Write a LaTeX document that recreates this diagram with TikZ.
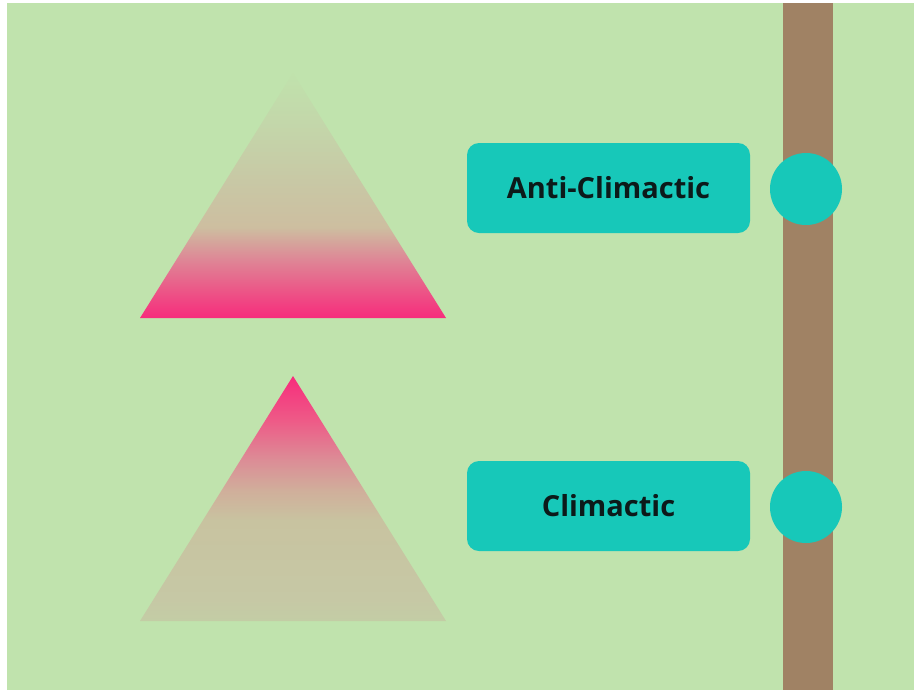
\documentclass[tikz,border=0pt]{standalone}
\usepackage{fontspec}
\setmainfont{Open Sans}
\definecolor{bggreen}{RGB}{192,227,173}
\definecolor{teal}{RGB}{23,200,185}
\definecolor{pole}{RGB}{160,130,100}
\definecolor{hot}{RGB}{247,44,124}
\definecolor{gA}{RGB}{236,85,135}
\definecolor{gB}{RGB}{222,135,150}
\definecolor{gC}{RGB}{205,190,160}
\definecolor{gD}{RGB}{200,200,165}
\definecolor{gE}{RGB}{195,215,170}
\definecolor{gF}{RGB}{192,226,172}
\definecolor{hA}{RGB}{238,90,135}
\definecolor{hB}{RGB}{220,140,150}
\definecolor{hC}{RGB}{208,175,155}
\definecolor{hD}{RGB}{200,195,160}
\definecolor{hE}{RGB}{198,200,165}
\definecolor{hF}{RGB}{195,205,165}
\definecolor{ink}{RGB}{12,26,26}
% pink at the base, fading to the background at the apex
\pgfdeclareverticalshading{risefade}{100bp}{color(0bp)=(hot); color(25bp)=(hot);
  color(30.5bp)=(gA); color(37bp)=(gB); color(43.5bp)=(gC); color(53bp)=(gD);
  color(65bp)=(gE); color(75bp)=(gF); color(100bp)=(gF)}
% pink at the apex, fading to tan at the base
\pgfdeclareverticalshading{peakfade}{100bp}{color(0bp)=(hF); color(25bp)=(hF);
  color(29.5bp)=(hE); color(45.5bp)=(hD); color(51.5bp)=(hC); color(58bp)=(hB);
  color(66bp)=(hA); color(75bp)=(hot); color(100bp)=(hot)}
\tikzset{
  label box/.style={fill=teal, rounded corners=12pt, minimum width=283pt,
    minimum height=90pt, inner sep=0pt, text=ink, font=\fontsize{29}{34}\selectfont\bfseries},
  knob/.style={circle, fill=teal, minimum size=72pt, inner sep=0pt}
}
\begin{document}
\begin{tikzpicture}[x=1pt,y=-1pt]
\useasboundingbox (0,0) rectangle (917,694);
\fill[white] (0,0) rectangle (917,694);
\fill[bggreen] (7,3) rectangle (914,690);
% vertical pole
\fill[pole] (783,3) rectangle (833,690);
% triangles
\shade[shading=risefade] (293,73) -- (446,318) -- (140,318) -- cycle;
\shade[shading=peakfade] (293,376) -- (446,621) -- (140,621) -- cycle;
% labels and knobs
\node[label box] (anti) at (608.5,188) {Anti-Climactic};
\node[label box] (clim) at (608.5,506) {Climactic};
\node[knob] (antiknob) at (806,189) {};
\node[knob] (climknob) at (806,507) {};
\end{tikzpicture}
\end{document}
